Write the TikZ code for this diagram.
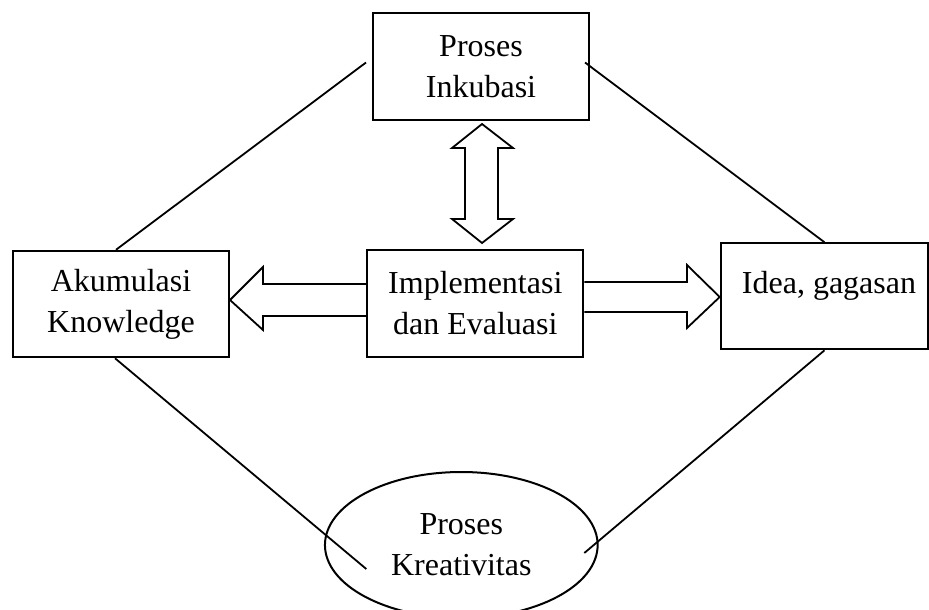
\documentclass[tikz,border=0pt]{standalone}
\usepackage{fontspec}
\setmainfont{Liberation Serif}
\usetikzlibrary{shapes.geometric,calc}
\begin{document}
\begin{tikzpicture}[x=1pt,y=-1pt,
  txt/.style={font=\fontsize{32}{41}\selectfont,align=center},
  box/.style={draw,line width=2pt,inner sep=0pt,txt},
  conn/.style={line width=1.8pt},
  blockarrow/.style={draw,line width=1.8pt,line join=miter}]
\useasboundingbox (0,0) rectangle (929,610);
\clip (0,0) rectangle (929,610);
% boxes
\node[box,minimum width=216pt,minimum height=107pt] (inku) at (481,66.5) {Proses\\Inkubasi};
\node[box,minimum width=216pt,minimum height=106.5pt] (akum) at (121,304) {Akumulasi\\Knowledge};
\node[box,minimum width=216pt,minimum height=106.5pt] (impl) at (475.3,303.5) {Implementasi\\dan Evaluasi};
\node[box,minimum width=207.6pt,minimum height=106pt] (idea) at (824.5,296.3) {};
\node[txt,anchor=base] (ideatext) at (829,293) {Idea, gagasan};
\node[box,ellipse,minimum width=272.7pt,minimum height=146pt] (kreat) at (461.3,545) {Proses\\Kreativitas};
% connectors
\draw[conn] ([shift={(-6,-4)}]inku.west) -- ([xshift=-5pt]akum.north);
\draw[conn] ([shift={(-5,-4)}]inku.east) -- (idea.north);
\draw[conn] ([xshift=-6pt]akum.south) -- ([shift={(-95,24)}]kreat.center);
\draw[conn] (idea.south) -- ([shift={(123,8)}]kreat.center);
% block arrows
\draw[blockarrow] (482,124) -- (513,148) -- (498,148) -- (498,219) -- (513,219) -- (482,243)
  -- (452,219) -- (465,219) -- (465,148) -- (452,148) -- cycle;
\draw[blockarrow] (impl.west |- 0,284) -- (263,284) -- (263,267) -- (akum.east |- 0,300)
  -- (263,330) -- (263,316) -- (impl.west |- 0,316);
\draw[blockarrow] (impl.east |- 0,282) -- (687,282) -- (687,265) -- (idea.west |- 0,297)
  -- (687,328) -- (687,312) -- (impl.east |- 0,312);
\end{tikzpicture}
\end{document}
